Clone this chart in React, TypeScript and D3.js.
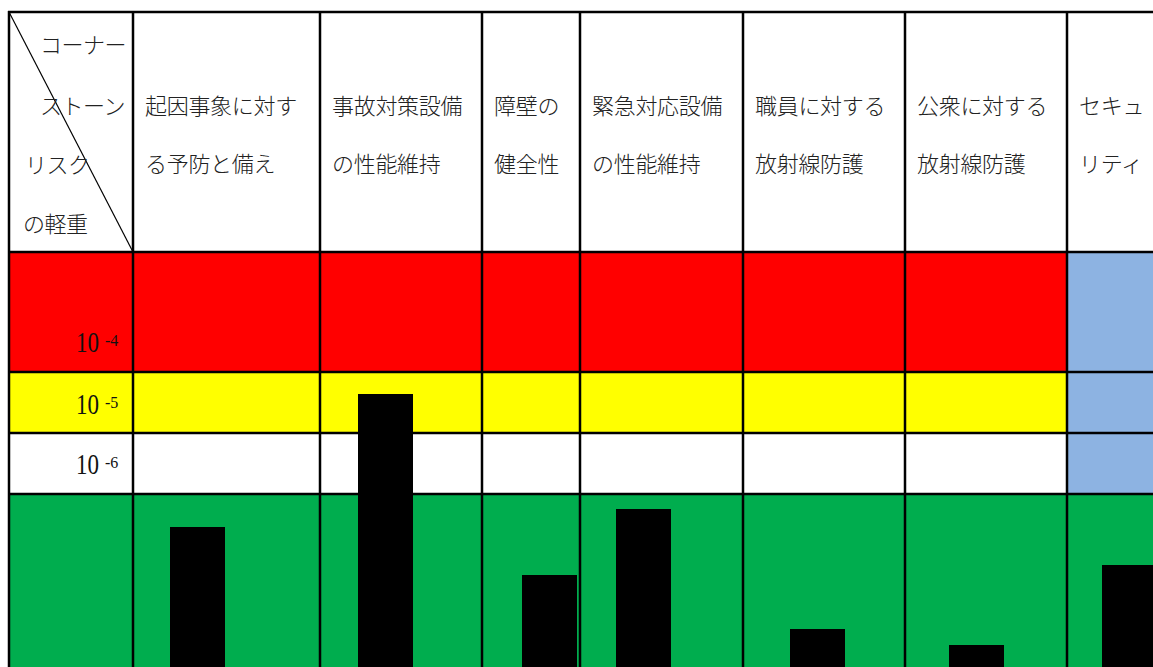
import React from "react";
import * as d3 from "d3";

// ---- data ----
const categories: string[][] = [
  ["起因事象に対す", "る予防と備え"],
  ["事故対策設備", "の性能維持"],
  ["障壁の", "健全性"],
  ["緊急対応設備", "の性能維持"],
  ["職員に対する", "放射線防護"],
  ["公衆に対する", "放射線防護"],
  ["セキュ", "リティ"],
];
const cornerLabels: string[] = ["コーナー", "ストーン", "リスク", "の軽重"];
const riskExponents: string[] = ["-4", "-5", "-6"];
const barValues: number[] = [140, 273, 92, 158, 38, 22, 102];

// ---- layout ----
const W = 1153;
const H = 667;
const LEFT = 9;
const TOP = 12;
const colWidths = [124, 187, 162, 98, 163, 162, 162, 170];
const rowHeights = [240, 120, 61, 61, 220];
const barInsets = [37, 38, 40, 36, 47, 44, 35];
const BAR_W = 55;
const FONT_JP = "'Noto Sans CJK JP', 'Noto Sans', sans-serif";
const FONT_NUM = "'Liberation Serif', 'DejaVu Serif', serif";
const RED = "#ff0000";
const YELLOW = "#ffff00";
const GREEN = "#00ad4e";
const BLUE = "#8db3e2";

export default function App() {
  const colEdges: number[] = Array.from(d3.cumsum([LEFT, ...colWidths]));
  const rowEdges: number[] = Array.from(d3.cumsum([TOP, ...rowHeights]));
  const colX = (i: number) => colEdges[i];
  const rowY = (i: number) => rowEdges[i];

  const y = d3.scaleLinear().domain([0, 300]).range([H, H - 300]);

  const bandFill = (row: number, col: number) => {
    if (row === 4) return GREEN;
    if (col === 7) return BLUE;
    return [RED, YELLOW, "#ffffff"][row - 1];
  };

  const cells: React.ReactElement[] = [];
  for (let r = 1; r <= 4; r++) {
    for (let c = 0; c < colWidths.length; c++) {
      cells.push(
        <rect
          key={`c${r}-${c}`}
          x={colX(c)}
          y={rowY(r)}
          width={colWidths[c]}
          height={rowHeights[r]}
          fill={bandFill(r, c)}
        />
      );
    }
  }

  const headerLineY = [104, 162];
  const cornerY = [43, 104, 163, 222];
  const cornerX = [40, 40, 25, 23];
  const riskBaseline = [352, 414, 474];

  return (
    <svg
      width={W}
      height={H}
      style={{ position: "absolute", left: 0, top: 0, background: "#fff" }}
    >
      <rect x={0} y={0} width={W} height={H} fill="#fff" />
      {cells}
      {/* bars */}
      {barValues.map((v, i) => (
        <rect
          key={`b${i}`}
          x={colX(i + 1) + barInsets[i]}
          y={y(v)}
          width={BAR_W}
          height={y(0) - y(v)}
          fill="#000"
        />
      ))}
      {/* grid lines */}
      {colEdges.map((x, i) => (
        <line key={`v${i}`} x1={x} x2={x} y1={TOP - 1} y2={H + 10} stroke="#000" strokeWidth={2.5} />
      ))}
      {rowEdges.slice(0, 5).map((yy, i) => (
        <line key={`h${i}`} x1={LEFT - 1} x2={W + 10} y1={yy} y2={yy} stroke="#000" strokeWidth={2.5} />
      ))}
      {/* diagonal */}
      <line x1={colX(0)} y1={rowY(0)} x2={colX(1)} y2={rowY(1)} stroke="#000" strokeWidth={1.2} />
      {/* corner labels */}
      {cornerLabels.map((t, i) => (
        <text
          key={`k${i}`}
          x={cornerX[i]}
          y={cornerY[i]}
          dominantBaseline="central"
          fontFamily={FONT_JP}
          fontSize={22}
          fontWeight={300}
          fill="#222"
          letterSpacing={-0.5}
        >
          {t}
        </text>
      ))}
      {/* headers */}
      {categories.map((lines, i) =>
        lines.map((t, j) => (
          <text
            key={`t${i}-${j}`}
            x={colX(i + 1) + 12}
            y={headerLineY[j]}
            dominantBaseline="central"
            fontFamily={FONT_JP}
            fontSize={22}
            fontWeight={300}
            fill="#222"
            letterSpacing={-0.3}
          >
            {t}
          </text>
        ))
      )}
      {/* risk labels */}
      {riskExponents.map((e, i) => (
        <g key={`r${i}`} fill="#111" fontFamily={FONT_NUM}>
          <text
            x={76}
            y={riskBaseline[i]}
            fontSize={28.5}
            textLength={23}
            lengthAdjust="spacingAndGlyphs"
          >
            10
          </text>
          <text x={105} y={riskBaseline[i] - 6} fontSize={16}>
            {e}
          </text>
        </g>
      ))}
    </svg>
  );
}
